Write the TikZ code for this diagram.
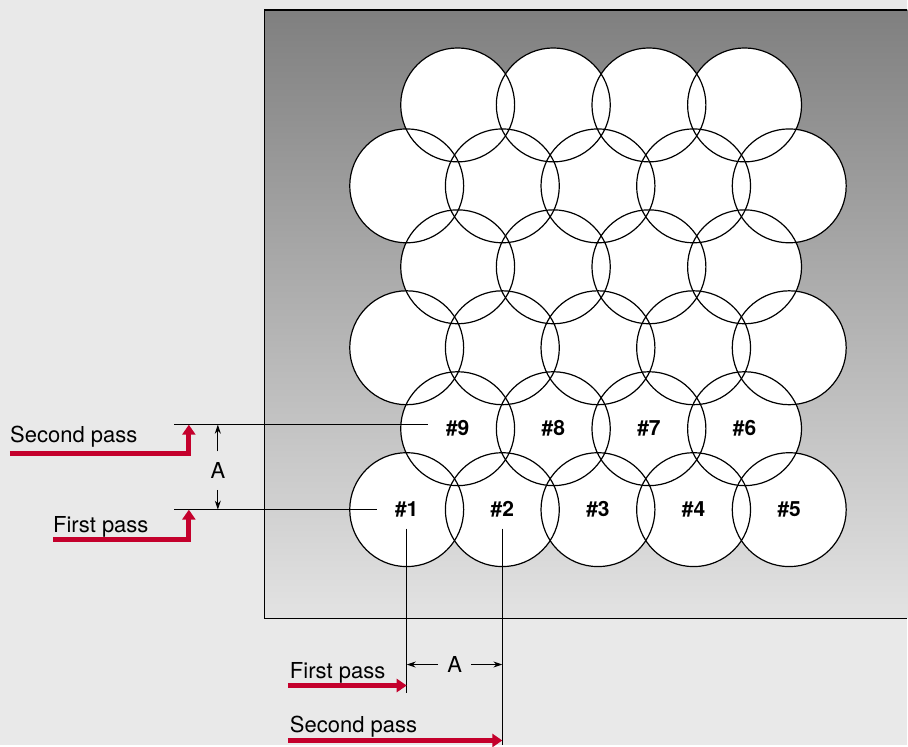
\documentclass[tikz,border=0pt]{standalone}
\usepackage{fontspec}
\setmainfont{TeX Gyre Heros}
\usetikzlibrary{arrows.meta}
\definecolor{passred}{RGB}{196,0,44}
\definecolor{bggray}{RGB}{233,233,233}

\begin{document}
\begin{tikzpicture}[x=1pt, y=-1pt,
  disc/.style={circle, draw=black, line width=1.2pt, minimum size=114pt,
               inner sep=0pt, font=\fontsize{21}{21}\selectfont\bfseries},
  lead/.style={black, line width=1pt},
  dim/.style={black, line width=0.9pt, -{Stealth[length=9pt,width=6pt]}},
  pass/.style={passred, line width=5pt, line join=miter,
               -{Triangle[length=10pt,width=13pt]}},
  lbl/.style={font=\fontsize{22}{22}\selectfont, inner sep=0pt, anchor=base west},
  dimlbl/.style={font=\fontsize{22}{22}\selectfont, inner xsep=9pt, inner ysep=11pt}
]
\fill[bggray] (0,0) rectangle (908,746);
\shade[top color=black!50, bottom color=black!11] (265,10) rectangle (908,619);
\draw[line width=1.3pt] (908,10) -- (265,10) -- (265,619) -- (908,619);

\foreach \y in {105,267,429}
  \foreach \i in {0,...,3} \fill[white] (458+95.7*\i,\y) circle[radius=57pt];
\foreach \y in {186,348,510}
  \foreach \i in {0,...,4} \fill[white] (407+95.7*\i,\y) circle[radius=57pt];

\foreach \y in {105,267}
  \foreach \i in {0,...,3} \node[disc] (u\y\i) at (458+95.7*\i,\y) {};
\foreach \y in {186,348}
  \foreach \i in {0,...,4} \node[disc] (v\y\i) at (407+95.7*\i,\y) {};
\foreach \n [count=\i from 0] in {9,8,7,6}
  \node[disc] (c\n) at (458+95.7*\i,429) {\#\n};
\foreach \n [count=\i from 0] in {1,...,5}
  \node[disc] (c\n) at (407+95.7*\i,510) {\#\n};

\coordinate (sp) at (174,425);
\coordinate (fp) at (174,510);
\coordinate (fb) at (407,693);
\coordinate (sb) at (502.7,746);
\draw[lead] ([xshift=-30pt,yshift=4pt]c9.center) -- (sp);
\draw[lead] ([xshift=-30pt]c1.center) -- (fp);
\draw[lead] ([yshift=-19pt]c1.center) -- (fb);
\draw[lead] ([yshift=-19pt]c2.center) -- (sb);

\node[dimlbl] (av) at (218,471) {A};
\draw[dim] (av.north) -- (av.north |- sp);
\draw[dim] (av.south) -- (av.south |- fp);
\node[dimlbl] (ah) at (455,665) {A};
\draw[dim] (ah.west) -- (ah.west -| fb);
\draw[dim] (ah.east) -- (ah.east -| sb);

\node[lbl] (spl) at (10,443) {Second pass};
\node[lbl] (fpl) at (53,533) {First pass};
\node[lbl] (fbl) at (290,679) {First pass};
\node[lbl] (sbl) at (290,733) {Second pass};
\coordinate (sps) at (10,454);
\coordinate (spt) at (189,425);
\coordinate (fps) at (53,540);
\coordinate (fpt) at (189,510);
\coordinate (fbs) at (288,686);
\coordinate (sbs) at (288,741);
\draw[pass] (sps) -| (spt);
\draw[pass] (fps) -| (fpt);
\draw[pass] (fbs) -- (fbs -| fb);
\draw[pass] (sbs) -- (sbs -| sb);
\end{tikzpicture}
\end{document}
